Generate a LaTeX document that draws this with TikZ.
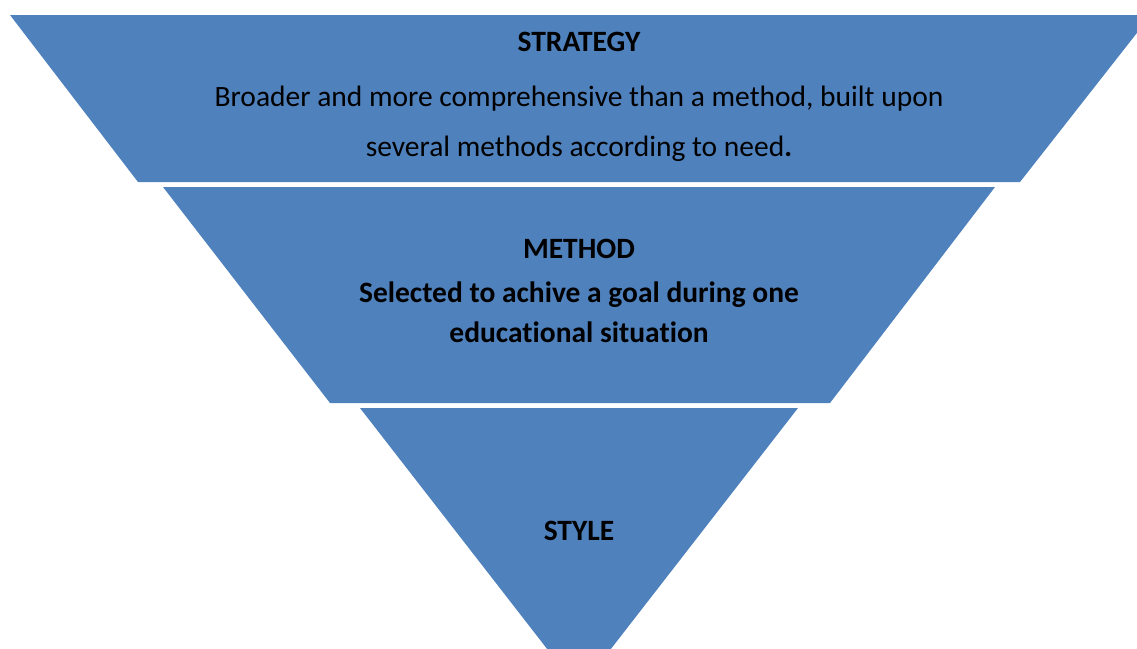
\documentclass[tikz,border=0pt]{standalone}
\usepackage{fontspec}
\setmainfont{Carlito}[Ligatures=NoCommon]
\definecolor{tierblue}{HTML}{4F81BD}
\begin{document}
\begin{tikzpicture}[x=1pt,y=-1pt,
  tier/.style={fill=tierblue},
  lbl/.style={font=\fontsize{29.5}{34}\selectfont\bfseries, inner sep=0pt, anchor=center},
  txt/.style={font=\fontsize{29.5}{34}\selectfont, inner sep=0pt, anchor=center}]
\useasboundingbox (0,0) rectangle (1137,648);
\begin{scope}
\clip (0,0) rectangle (1137,648);
\fill[tier] (10,15) -- (1151,15) -- (1020,182) -- (138,182) -- cycle;
\fill[tier] (163,187) -- (995,187) -- (830,403) -- (330,403) -- cycle;
\fill[tier] (360,408) -- (798,408) -- (579,690) -- cycle;
\end{scope}
\node[lbl] (strategy) at (579,42) {STRATEGY};
\node[txt] (s1) at (579,99) {Broader and more comprehensive than a method, built upon};
\node[txt] (s2) at (579,149) {several methods according to need\textbf{.}};
\node[lbl] (method) at (579,249) {METHOD};
\node[lbl] (m1) at (579,295) {Selected to achive a goal during one};
\node[lbl] (m2) at (579,332) {educational situation};
\node[lbl] (style) at (579,531) {STYLE};
\end{tikzpicture}
\end{document}
